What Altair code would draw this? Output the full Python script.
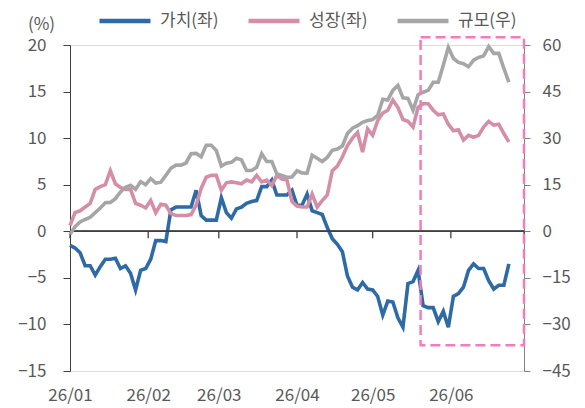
import altair as alt
import pandas as pd

dates = pd.date_range("2026-01-01", periods=88, freq="2D").strftime("%Y-%m-%d").tolist()

value_series = [  # 가치(좌), left axis, %
    -1.5, -1.8, -2.3, -3.7, -3.7, -4.7, -3.8, -3.0, -3.0, -2.9,
    -4.0, -3.7, -4.5, -6.3, -4.2, -4.0, -3.0, -1.0, -1.0, -1.1,
    2.3, 2.6, 2.6, 2.6, 2.6, 4.4, 1.7, 1.2, 1.2, 1.2,
    3.6, 2.0, 1.4, 2.4, 2.6, 3.0, 3.2, 3.3, 4.8, 4.8,
    5.5, 3.9, 3.9, 3.9, 4.4, 2.8, 2.8, 4.0, 2.2, 2.0,
    1.8, 0.4, -0.8, -1.4, -2.2, -4.8, -6.0, -6.3, -5.5, -6.2,
    -6.3, -7.0, -9.0, -7.5, -7.6, -9.3, -10.3, -5.6, -5.4, -4.2,
    -8.0, -8.2, -8.2, -9.7, -8.6, -10.3, -7.0, -6.7, -6.0, -4.2,
    -3.5, -4.0, -4.0, -5.3, -6.2, -5.8, -5.8, -3.5,
]
growth_series = [  # 성장(좌), left axis, %
    0.6, 2.0, 2.2, 2.6, 3.0, 4.5, 4.8, 5.0, 6.5, 5.1,
    4.7, 4.5, 4.5, 3.0, 2.8, 2.5, 3.3, 2.0, 2.9, 2.8,
    1.9, 1.7, 1.7, 1.7, 1.8, 2.8, 4.6, 5.8, 6.0, 6.0,
    4.4, 5.2, 5.3, 5.2, 5.1, 5.5, 5.3, 6.0, 5.3, 5.5,
    4.9, 6.0, 5.6, 5.5, 3.2, 2.7, 2.6, 2.6, 4.0, 2.6,
    3.3, 3.9, 6.5, 7.0, 8.0, 9.2, 10.0, 10.6, 8.5, 11.0,
    10.3, 11.9, 12.7, 13.0, 14.1, 13.3, 12.0, 11.8, 11.2, 13.3,
    13.7, 13.7, 13.0, 12.5, 12.6, 11.5, 10.8, 10.9, 9.8, 10.3,
    10.1, 10.3, 11.2, 11.8, 11.4, 11.5, 10.5, 9.6,
]
size_series = [  # 규모(우), right axis, %
    -1.0, 1.5, 3.0, 3.8, 4.5, 6.0, 7.5, 9.2, 9.3, 10.5,
    12.7, 14.2, 14.8, 13.5, 16.0, 15.0, 17.0, 15.5, 15.8, 18.0,
    20.3, 21.3, 21.3, 22.0, 25.0, 25.1, 24.0, 27.7, 27.7, 26.0,
    21.0, 21.9, 22.2, 23.5, 23.0, 19.6, 19.6, 20.6, 25.0, 22.5,
    22.5, 18.5, 18.0, 17.4, 17.5, 19.5, 18.8, 18.7, 24.5, 23.5,
    22.5, 23.8, 26.1, 26.5, 27.5, 31.5, 33.2, 34.0, 35.1, 35.7,
    36.0, 37.3, 42.5, 42.3, 45.4, 47.0, 43.0, 42.8, 39.0, 44.0,
    44.8, 45.4, 48.0, 48.0, 53.5, 59.2, 55.7, 54.4, 54.0, 53.0,
    55.1, 56.0, 56.5, 59.5, 57.3, 57.3, 52.5, 48.0,
]

names = ["가치(좌)", "성장(좌)", "규모(우)"]
colors = ["#2E6BA6", "#D58EA7", "#A6A6A6"]

month_ticks = ["2026-01-01", "2026-02-01", "2026-03-01", "2026-04-01",
               "2026-05-01", "2026-06-01", "2026-06-30"]

box_start = ["2026-05-20"]
box_end = ["2026-06-30"]
box_top = [62.5]      # right-axis units
box_bottom = [-36.7]

left_ticks = [-15, -10, -5, 0, 5, 10, 15, 20]
right_ticks = [-45, -30, -15, 0, 15, 30, 45, 60]

# ---- frames ----
left_df = pd.concat([
    pd.DataFrame({"date": dates, "value": value_series, "series": names[0]}),
    pd.DataFrame({"date": dates, "value": growth_series, "series": names[1]}),
])
right_df = pd.DataFrame({"date": dates, "value": size_series, "series": names[2]})
tick_df = pd.DataFrame({"date": month_ticks})
box_df = pd.DataFrame({"date": box_start, "date2": box_end,
                       "value": box_top, "value2": box_bottom})

FONT = "Noto Sans CJK KR"
LABEL = "#595959"

xscale = alt.Scale(type="utc", domain=["2026-01-01", "2026-06-30"])
xaxis = alt.Axis(format="%y/%m", tickCount={"interval": "month", "step": 1},
                 domain=False, ticks=False, grid=False, labelPadding=16,
                 labelFontSize=17, labelColor=LABEL, labelFont=FONT,
                 labelFlush=False, labelOverlap=False, title=None)


def X():
    return alt.X("date:T", scale=xscale, axis=xaxis)


color = alt.Color(
    "series:N",
    scale=alt.Scale(domain=names, range=colors),
    legend=alt.Legend(
        orient="none", legendX=27, legendY=-52, direction="horizontal",
        title=None, symbolType="stroke", symbolSize=2600,
        symbolStrokeWidth=4.5, labelFontSize=17, labelColor=LABEL,
        labelFont=FONT, labelOffset=7, columnPadding=20, padding=0,
    ),
    sort=names,
)

left_axis = alt.Axis(values=left_ticks, grid=False, domainColor="#404040",
                     tickColor="#404040", tickSize=7, labelPadding=17,
                     labelFontSize=17, labelColor=LABEL, labelFont=FONT,
                     title="(%)", titleAngle=0, titleX=-29, titleY=-21,
                     titleAlign="center", titleBaseline="middle",
                     titleFontSize=17, titleFontWeight="normal",
                     titleColor=LABEL, titleFont=FONT)
right_axis = alt.Axis(values=right_ticks, orient="right", grid=False,
                      domainColor="#808080", tickColor="#808080", tickSize=6,
                      labelPadding=12, labelFontSize=17, labelColor=LABEL,
                      labelFont=FONT, title=None)

yleft = alt.Scale(domain=[-15, 20], nice=False, zero=False)
yright = alt.Scale(domain=[-45, 60], nice=False, zero=False)

left_lines = alt.Chart(left_df).mark_line(strokeWidth=3.6).encode(
    x=X(), y=alt.Y("value:Q", scale=yleft, axis=left_axis), color=color,
    detail="series:N",
)
zero_rule = alt.Chart(tick_df).mark_rule(color="#404040", strokeWidth=1.3).encode(
    y=alt.datum(0)
)
month_rules = alt.Chart(tick_df).mark_rule(color="#404040", strokeWidth=1.3).encode(
    x=X(), y=alt.datum(0), y2=alt.datum(-0.75)
)
left_group = alt.layer(left_lines, zero_rule, month_rules)

right_line = alt.Chart(right_df).mark_line(strokeWidth=3.6).encode(
    x=X(), y=alt.Y("value:Q", scale=yright, axis=right_axis), color=color,
)
box = alt.Chart(box_df).mark_rect(
    fill=None, stroke="#F27DBB", strokeWidth=2.5, strokeDash=[10, 5], clip=False
).encode(x=X(), x2="date2", y=alt.Y("value:Q", scale=yright, axis=right_axis), y2="value2")
right_group = alt.layer(right_line, box)

chart = alt.layer(left_group, right_group).resolve_scale(
    y="independent"
).properties(
    width=454, height=326,
    padding={"left": 62, "top": 37, "right": 53, "bottom": 34},
    autosize=alt.AutoSizeParams(type="none"),
).configure_view(stroke=None).configure(font=FONT)

chart.save("out.html", embed_options={"renderer": "svg", "actions": False})
